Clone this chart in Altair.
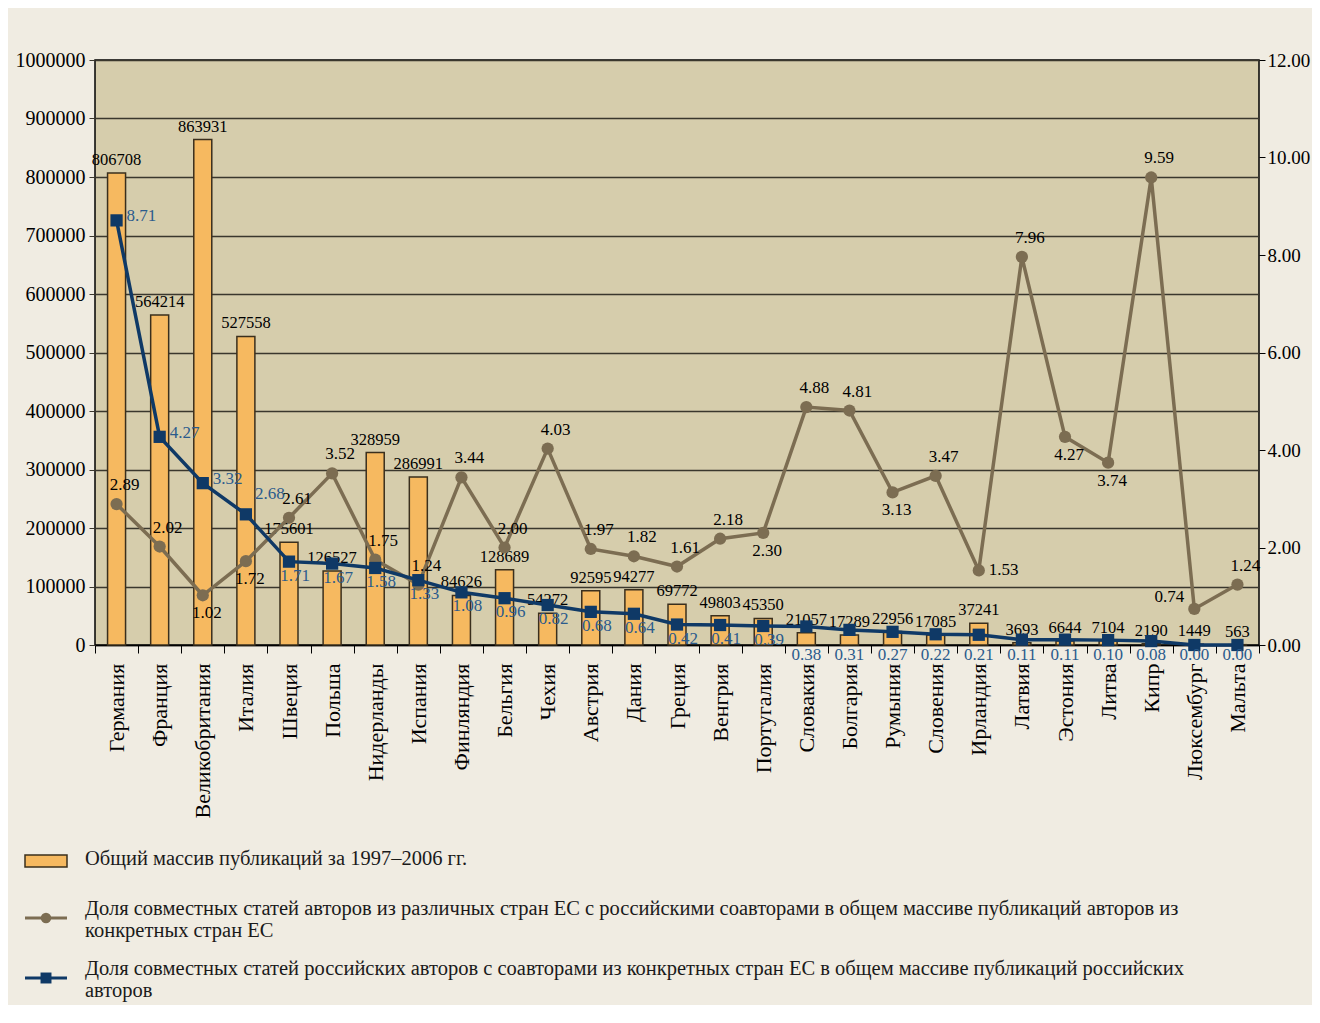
import altair as alt
import pandas as pd

countries = ["Германия", "Франция", "Великобритания", "Италия", "Швеция", "Польша",
             "Нидерланды", "Испания", "Финляндия", "Бельгия", "Чехия", "Австрия",
             "Дания", "Греция", "Венгрия", "Португалия", "Словакия", "Болгария",
             "Румыния", "Словения", "Ирландия", "Латвия", "Эстония", "Литва",
             "Кипр", "Люксембург", "Мальта"]
publications = [806708, 564214, 863931, 527558, 175601, 126527, 328959, 286991,
                84626, 128689, 54272, 92595, 94277, 69772, 49803, 45350, 21057,
                17289, 22956, 17085, 37241, 3693, 6644, 7104, 2190, 1449, 563]
eu_share = [2.89, 2.02, 1.02, 1.72, 2.61, 3.52, 1.75, 1.24, 3.44, 2.00, 4.03, 1.97,
            1.82, 1.61, 2.18, 2.30, 4.88, 4.81, 3.13, 3.47, 1.53, 7.96, 4.27, 3.74,
            9.59, 0.74, 1.24]
ru_share = [8.71, 4.27, 3.32, 2.68, 1.71, 1.67, 1.58, 1.33, 1.08, 0.96, 0.82, 0.68,
            0.64, 0.42, 0.41, 0.39, 0.38, 0.31, 0.27, 0.22, 0.21, 0.11, 0.11, 0.10,
            0.08, 0.00, 0.00]

legend_labels = [
    "Общий массив публикаций за 1997–2006 гг.",
    "Доля совместных статей авторов из различных стран ЕС с российскими соавторами в общем массиве публикаций авторов из\nконкретных стран ЕС",
    "Доля совместных статей российских авторов с соавторами из конкретных стран ЕС в общем массиве публикаций российских\nавторов",
]

# label placement groups
brown_below = ["Великобритания", "Италия", "Португалия", "Румыния", "Эстония", "Литва"]
brown_right = ["Ирландия"]
brown_left = ["Люксембург"]
blue_right = ["Германия", "Франция", "Великобритания"]
blue_upright = ["Италия"]
blue_axis = countries[16:]

df = pd.DataFrame({"country": countries, "pubs": publications,
                   "eu": eu_share, "ru": ru_share})

FONT = "Liberation Serif"
BAR = "#f6b960"
BROWN = "#7c6d52"
NAVY = "#0f3966"
NAVY_TXT = "#2b5b8c"
GRID = "#3a372d"

xaxis = alt.Axis(labelAngle=-90, labelAlign="right", labelBaseline="middle",
                 labelFont=FONT, labelFontSize=22, labelColor="black",
                 labelPadding=10, tickBand="extent", tickSize=8,
                 tickColor="black", domainColor="black", domainWidth=1.5)
xscale = alt.Scale(paddingInner=0, paddingOuter=0)
xenc = alt.X("country:N", sort=countries, title=None, scale=xscale, axis=xaxis)

bscale = alt.Scale(domain=[0, 1000000], nice=False)
laxis = alt.Axis(values=list(range(0, 1000001, 100000)), format="d",
                 labelFont=FONT, labelFontSize=20, labelColor="black",
                 grid=True, gridColor=GRID, gridWidth=1.6,
                 tickColor=GRID, tickSize=6, domain=False, labelPadding=4)
ybar = alt.Y("pubs:Q", title=None, scale=bscale, axis=laxis)

bars = alt.Chart(df).mark_bar(size=18, color=BAR, stroke="#3a2f1d", strokeWidth=1.5).encode(
    x=xenc, y=ybar)
bar_text = alt.Chart(df).mark_text(font=FONT, fontSize=16.5, color="black",
                                   baseline="bottom", dy=-5).encode(
    x=xenc, y=ybar, text=alt.Text("pubs:Q", format="d"))

left = alt.layer(bars, bar_text)

sscale = alt.Scale(domain=[0, 12], nice=False)
raxis = alt.Axis(orient="right", values=[0, 2, 4, 6, 8, 10, 12], format=".2f",
                 labelFont=FONT, labelFontSize=19, labelColor="black", grid=False,
                 tickColor="black", tickSize=6, domain=False, labelPadding=2)

brown_line = alt.Chart(df).mark_line(color=BROWN, strokeWidth=3.5,
                                     point=alt.OverlayMarkDef(filled=True, size=150, color=BROWN, opacity=1)).encode(
    x=xenc, y=alt.Y("eu:Q", scale=sscale, axis=raxis, title=None))
navy_line = alt.Chart(df).mark_line(color=NAVY, strokeWidth=3.5,
                                    point=alt.OverlayMarkDef(filled=True, size=150, shape="square",
                                                             color=NAVY, opacity=1)).encode(
    x=xenc, y=alt.Y("ru:Q", scale=sscale, axis=raxis, title=None))

def txt(col, color, cond, **kw):
    return alt.Chart(df).transform_filter(cond).mark_text(
        font=FONT, fontSize=17, color=color, **kw).encode(
        x=xenc, y=alt.Y(f"{col}:Q", scale=sscale, axis=raxis, title=None),
        text=alt.Text(f"{col}:Q", format=".2f"))

others = brown_below + brown_right + brown_left
b_above = txt("eu", "black", {"not": alt.FieldOneOfPredicate(field="country", oneOf=others)},
              baseline="bottom", dy=-10, dx=8)
b_below = txt("eu", "black", alt.FieldOneOfPredicate(field="country", oneOf=brown_below),
              baseline="top", dy=10, dx=4)
b_right = txt("eu", "black", alt.FieldOneOfPredicate(field="country", oneOf=brown_right),
              align="left", baseline="middle", dx=10)
b_left = txt("eu", "black", alt.FieldOneOfPredicate(field="country", oneOf=brown_left),
             align="right", baseline="bottom", dx=-10, dy=-3)

n_right = txt("ru", NAVY_TXT, alt.FieldOneOfPredicate(field="country", oneOf=blue_right),
              align="left", baseline="middle", dx=10, dy=-4)
n_upright = txt("ru", NAVY_TXT, alt.FieldOneOfPredicate(field="country", oneOf=blue_upright),
                align="left", baseline="middle", dx=9, dy=-20)
n_below = txt("ru", NAVY_TXT,
              {"not": alt.FieldOneOfPredicate(field="country", oneOf=blue_right + blue_upright + blue_axis)},
              baseline="top", dy=6, dx=6)
n_axis = alt.Chart(df).transform_filter(
    alt.FieldOneOfPredicate(field="country", oneOf=blue_axis)).mark_text(
    font=FONT, fontSize=17, color=NAVY_TXT, baseline="top", dy=2).encode(
    x=xenc, y=alt.YDatum(0, scale=sscale, axis=raxis, title=None),
    text=alt.Text("ru:Q", format=".2f"))

right = alt.layer(brown_line, navy_line, b_above, b_below, b_right, b_left,
                  n_right, n_upright, n_below, n_axis)

# legend
leg1 = pd.DataFrame({"t": [legend_labels[0]]})
leg2 = pd.DataFrame({"t": [legend_labels[1]]})
leg3 = pd.DataFrame({"t": [legend_labels[2]]})

def leg_text(d, y):
    return alt.Chart(d).mark_text(font=FONT, fontSize=20.5, color="#1a1a1a", align="left",
                                  baseline="top", lineBreak="\n", lineHeight=22).encode(
        x=alt.value(-10), y=alt.value(y), text="t:N")

leg_sym1 = alt.Chart(leg1).mark_rect(color=BAR, stroke="#3a2f1d", strokeWidth=1.5).encode(
    x=alt.value(-70), x2=alt.value(-28), y=alt.value(795), y2=alt.value(807))
leg_sym2 = alt.Chart(leg2).mark_rule(color=BROWN, strokeWidth=3).encode(
    x=alt.value(-70), x2=alt.value(-28), y=alt.value(858))
leg_pt2 = alt.Chart(leg2).mark_point(filled=True, size=110, color=BROWN, opacity=1).encode(
    x=alt.value(-49), y=alt.value(858))
leg_sym3 = alt.Chart(leg3).mark_rule(color=NAVY, strokeWidth=3).encode(
    x=alt.value(-70), x2=alt.value(-28), y=alt.value(918))
leg_pt3 = alt.Chart(leg3).mark_point(filled=True, size=120, shape="square", color=NAVY, opacity=1).encode(
    x=alt.value(-49), y=alt.value(918))

legend = alt.layer(leg_sym1, leg_sym2, leg_pt2, leg_sym3, leg_pt3,
                   leg_text(leg1, 789), leg_text(leg2, 839), leg_text(leg3, 899))

chart = alt.layer(left, right, legend).resolve_scale(y="independent").properties(
    width=1164, height=585,
    autosize=alt.AutoSizeParams(type="none"),
    padding={"left": 87, "top": 52, "right": 53, "bottom": 360},
    background="#f0ece2",
).configure_view(fill="#d6cdac", stroke="black", strokeWidth=1.5)

chart.save("out.html", embed_options={"renderer": "svg", "actions": False})
